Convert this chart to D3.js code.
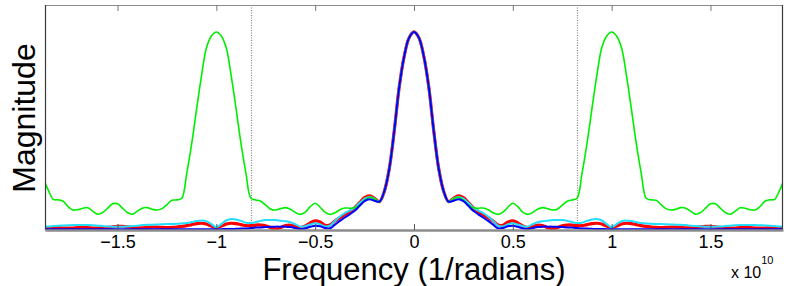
<!DOCTYPE html>
<html>
<head>
<meta charset="utf-8">
<script src="https://cdn.jsdelivr.net/npm/d3@7"></script>
<style>
  html, body { margin: 0; padding: 0; background: #fff; }
  svg { display: block; font-family: "Liberation Sans", Arial, Helvetica, sans-serif; }
</style>
</head>
<body>
<svg id="chart" width="789" height="286"></svg>
<script>
// Frequency samples (units of 1e10 1/radians)
const freq = [-1.875,-1.85,-1.825,-1.8,-1.775,-1.75,-1.725,-1.7,-1.675,-1.65,-1.625,-1.6,-1.575,-1.55,-1.525,-1.5,-1.475,-1.45,-1.425,-1.4,-1.375,-1.35,-1.325,-1.3,-1.275,-1.25,-1.225,-1.2,-1.175,-1.15,-1.125,-1.1,-1.075,-1.05,-1.025,-1,-0.975,-0.95,-0.925,-0.9,-0.875,-0.85,-0.825,-0.8,-0.775,-0.75,-0.725,-0.7,-0.675,-0.65,-0.625,-0.6,-0.575,-0.55,-0.525,-0.5,-0.475,-0.45,-0.425,-0.4,-0.375,-0.35,-0.325,-0.3,-0.275,-0.25,-0.225,-0.2,-0.175,-0.15,-0.125,-0.1,-0.075,-0.05,-0.025,0,0.025,0.05,0.075,0.1,0.125,0.15,0.175,0.2,0.225,0.25,0.275,0.3,0.325,0.35,0.375,0.4,0.425,0.45,0.475,0.5,0.525,0.55,0.575,0.6,0.625,0.65,0.675,0.7,0.725,0.75,0.775,0.8,0.825,0.85,0.875,0.9,0.925,0.95,0.975,1,1.025,1.05,1.075,1.1,1.125,1.15,1.175,1.2,1.225,1.25,1.275,1.3,1.325,1.35,1.375,1.4,1.425,1.45,1.475,1.5,1.525,1.55,1.575,1.6,1.625,1.65,1.675,1.7,1.725,1.75,1.775,1.8,1.825,1.85,1.875];

const greenValues = [0.260,0.200,0.155,0.152,0.145,0.118,0.101,0.103,0.110,0.112,0.095,0.080,0.088,0.110,0.132,0.132,0.110,0.088,0.080,0.095,0.110,0.113,0.105,0.101,0.108,0.128,0.150,0.152,0.160,0.285,0.435,0.610,0.780,0.920,0.980,1.000,0.980,0.920,0.780,0.610,0.435,0.285,0.160,0.152,0.145,0.125,0.105,0.101,0.108,0.113,0.105,0.088,0.079,0.090,0.118,0.135,0.115,0.090,0.079,0.087,0.102,0.111,0.110,0.112,0.125,0.150,0.165,0.158,0.143,0.196,0.310,0.500,0.720,0.875,0.970,
  1.000,0.970,0.875,0.720,0.500,0.310,0.196,0.143,0.158,0.165,0.150,0.125,0.112,0.110,0.111,0.102,0.087,0.079,0.090,0.115,0.135,0.118,0.090,0.079,0.088,0.105,0.113,0.108,0.101,0.105,0.125,0.145,0.152,0.160,0.285,0.435,0.610,0.780,0.920,0.980,1.000,0.980,0.920,0.780,0.610,0.435,0.285,0.160,0.152,0.150,0.128,0.108,0.101,0.105,0.113,0.110,0.095,0.080,0.088,0.110,0.132,0.132,0.110,0.088,0.080,0.095,0.112,0.110,0.103,0.101,0.118,0.145,0.152,0.155,0.200,0.260];

const redValues = [0.010,0.010,0.011,0.011,0.010,0.009,0.010,0.012,0.013,0.012,0.010,0.009,0.010,0.013,0.016,0.018,0.018,0.016,0.013,0.011,0.011,0.013,0.015,0.015,0.013,0.012,0.013,0.015,0.018,0.022,0.027,0.032,0.034,0.030,0.020,0.012,0.020,0.030,0.034,0.032,0.027,0.022,0.022,0.025,0.025,0.021,0.012,0.006,0.013,0.022,0.024,0.018,0.012,0.020,0.036,0.046,0.040,0.024,0.025,0.045,0.062,0.077,0.093,0.112,0.138,0.163,0.172,0.160,0.143,0.196,0.310,0.500,0.720,0.875,0.970,
  1.000,0.970,0.875,0.720,0.500,0.310,0.196,0.143,0.160,0.172,0.163,0.138,0.112,0.093,0.077,0.062,0.045,0.025,0.024,0.040,0.046,0.036,0.020,0.012,0.018,0.024,0.022,0.013,0.006,0.012,0.021,0.025,0.025,0.022,0.022,0.027,0.032,0.034,0.030,0.020,0.012,0.020,0.030,0.034,0.032,0.027,0.022,0.018,0.015,0.013,0.012,0.013,0.015,0.015,0.013,0.011,0.011,0.013,0.016,0.018,0.018,0.016,0.013,0.010,0.009,0.010,0.012,0.013,0.012,0.010,0.009,0.010,0.011,0.011,0.010,0.010];

const cyanValues = [0.017,0.018,0.020,0.022,0.023,0.024,0.025,0.025,0.025,0.025,0.024,0.022,0.020,0.018,0.017,0.016,0.016,0.018,0.020,0.022,0.025,0.026,0.027,0.028,0.029,0.030,0.030,0.031,0.033,0.035,0.040,0.045,0.048,0.045,0.030,0.014,0.030,0.048,0.055,0.053,0.046,0.037,0.035,0.040,0.046,0.050,0.051,0.050,0.047,0.044,0.039,0.029,0.017,0.019,0.028,0.034,0.029,0.018,0.022,0.046,0.068,0.085,0.098,0.113,0.136,0.158,0.166,0.158,0.143,0.196,0.310,0.500,0.720,0.875,0.970,
  1.000,0.970,0.875,0.720,0.500,0.310,0.196,0.143,0.158,0.166,0.158,0.136,0.113,0.098,0.085,0.068,0.046,0.022,0.018,0.029,0.034,0.028,0.019,0.017,0.029,0.039,0.044,0.047,0.050,0.051,0.050,0.046,0.040,0.035,0.037,0.046,0.053,0.055,0.048,0.030,0.014,0.030,0.045,0.048,0.045,0.040,0.035,0.033,0.031,0.030,0.030,0.029,0.028,0.027,0.026,0.025,0.022,0.020,0.018,0.016,0.016,0.017,0.018,0.020,0.022,0.024,0.025,0.025,0.025,0.025,0.024,0.023,0.022,0.020,0.018,0.017];

const blueValues = [0.004,0.004,0.004,0.004,0.004,0.004,0.004,0.004,0.004,0.004,0.004,0.004,0.004,0.004,0.004,0.004,0.004,0.004,0.004,0.004,0.004,0.004,0.004,0.004,0.004,0.004,0.004,0.004,0.004,0.004,0.004,0.004,0.004,0.004,0.004,
  0.004,0.004,0.005,0.005,0.006,0.007,0.008,0.010,0.012,0.013,0.015,0.016,0.017,0.017,0.017,0.015,0.010,0.005,0.008,0.016,0.022,0.019,0.010,0.009,0.027,0.046,0.063,0.079,0.097,0.122,0.146,0.155,0.148,0.143,0.196,0.310,0.500,0.720,0.875,0.970,
  1.000,0.970,0.875,0.720,0.500,0.310,0.196,0.143,0.148,0.155,0.146,0.122,0.097,0.079,0.063,0.046,0.027,0.009,0.010,0.019,0.022,0.016,0.008,0.005,0.010,0.015,0.017,0.017,0.017,0.016,0.015,0.013,0.012,0.010,0.008,0.007,0.006,0.005,0.005,0.004,0.004,
  0.004,0.004,0.004,0.004,0.004,0.004,0.004,0.004,0.004,0.004,0.004,0.004,0.004,0.004,0.004,0.004,0.004,0.004,0.004,0.004,0.004,0.004,0.004,0.004,0.004,0.004,0.004,0.004,0.004,0.004,0.004,0.004,0.004,0.004,0.004];

const tickValues = [-1.5, -1, -0.5, 0, 0.5, 1, 1.5];
const tickLabels = ["\u22121.5", "\u22121", "\u22120.5", "0", "0.5", "1", "1.5"];
const markerFreqs = [-0.825, 0.825];
const xDomain = [-1.867, 1.867];
const yDomain = [0, 1.136];

const svg = d3.select("#chart");
const M = { left: 45, right: 783, top: 5, bottom: 230 };

const x = d3.scaleLinear().domain(xDomain).range([M.left, M.right]);
const y = d3.scaleLinear().domain(yDomain).range([M.bottom, M.top]);

svg.append("defs").append("clipPath").attr("id", "plotclip")
  .append("rect").attr("x", M.left).attr("y", M.top - 2)
  .attr("width", M.right - M.left).attr("height", M.bottom - M.top + 3);

// dotted marker lines
svg.append("g").selectAll("line").data(markerFreqs).join("line")
  .attr("x1", d => Math.round(x(d)) + 0.5).attr("x2", d => Math.round(x(d)) + 0.5)
  .attr("y1", M.top).attr("y2", M.bottom)
  .attr("stroke", "#8a8a8a").attr("stroke-width", 1.2).attr("stroke-dasharray", "1,1.5");

const series = [
  { name: "red", values: redValues, color: "#ff0000", width: 3.2 },
  { name: "cyan", values: cyanValues, color: "#22ddff", width: 2 },
  { name: "green", values: greenValues, color: "#00ee00", width: 1.6 },
  { name: "blue", values: blueValues, color: "#0000ff", width: 2 }
];

const line = d3.line()
  .x((d, i) => x(freq[i]))
  .y(d => y(d))
  .curve(d3.curveCatmullRom.alpha(0.5));

const gLines = svg.append("g").attr("clip-path", "url(#plotclip)");
series.forEach(s => {
  gLines.append("path").datum(s.values)
    .attr("fill", "none").attr("stroke", s.color)
    .attr("stroke-width", s.width).attr("stroke-linejoin", "round")
    .attr("d", line);
});

// frame
svg.append("line").attr("x1", M.left).attr("x2", M.right).attr("y1", M.top + 0.5).attr("y2", M.top + 0.5)
  .attr("stroke", "#8c8c8c").attr("stroke-width", 1);
svg.append("line").attr("x1", M.left + 0.5).attr("x2", M.left + 0.5).attr("y1", M.top).attr("y2", M.bottom)
  .attr("stroke", "#3a3a3a").attr("stroke-width", 1.2);
svg.append("line").attr("x1", M.right - 0.5).attr("x2", M.right - 0.5).attr("y1", M.top).attr("y2", M.bottom)
  .attr("stroke", "#3a3a3a").attr("stroke-width", 1.2);

// top ticks
const topAxis = d3.axisTop(x).tickValues(tickValues).tickSizeInner(-6).tickSizeOuter(0).tickFormat("");
const gTop = svg.append("g").attr("transform", `translate(0,${M.top})`).call(topAxis);
gTop.select(".domain").remove();
gTop.selectAll(".tick line").attr("stroke", "#777");

// bottom axis
const bottomAxis = d3.axisBottom(x).tickValues(tickValues).tickSizeInner(-6).tickSizeOuter(0)
  .tickFormat((d, i) => tickLabels[i]).tickPadding(5);
const gBot = svg.append("g").attr("transform", `translate(0,${M.bottom})`).call(bottomAxis);
gBot.select(".domain").attr("stroke", "#8c8c8c").attr("stroke-width", 2.4);
gBot.selectAll(".tick line").attr("stroke", "#555");
gBot.selectAll(".tick text").attr("font-size", 18).attr("fill", "#000")
  .attr("font-family", '"Liberation Sans", Arial, sans-serif');

// axis labels
svg.append("text").attr("x", 414).attr("y", 280).attr("text-anchor", "middle")
  .attr("font-size", 31).attr("fill", "#000").text("Frequency (1/radians)");
svg.append("text").attr("transform", "translate(35,118) rotate(-90)").attr("text-anchor", "middle")
  .attr("font-size", 32).attr("fill", "#000").text("Magnitude");

// exponent
const ex = svg.append("text").attr("x", 731).attr("y", 278).attr("font-size", 16).attr("fill", "#000");
ex.append("tspan").text("x 10");
ex.append("tspan").attr("dy", -14).attr("font-size", 11).text("10");
</script>
</body>
</html>
